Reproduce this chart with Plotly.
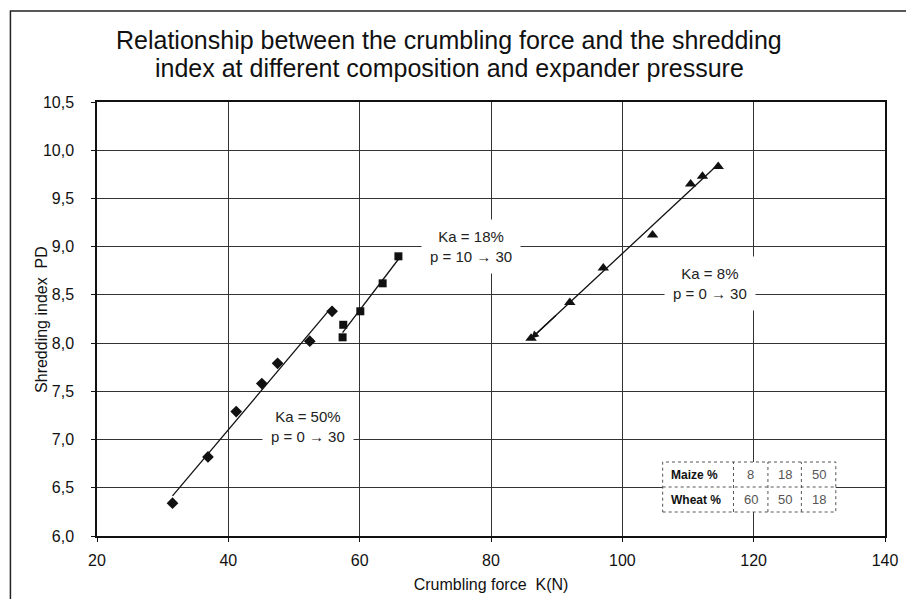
import numpy as np
import plotly.graph_objects as go

# Ka = 50 %, p = 0 -> 30 (diamonds)
ka50_force = [31.5, 36.9, 41.2, 45.1, 47.5, 52.4, 55.8]
ka50_pd = [6.34, 6.82, 7.29, 7.58, 7.79, 8.02, 8.33]

# Ka = 18 %, p = 10 -> 30 (squares)
ka18_force = [57.4, 57.5, 60.1, 63.5, 65.9]
ka18_pd = [8.06, 8.19, 8.33, 8.62, 8.90]

# Ka = 8 %, p = 0 -> 30 (triangles)
ka8_force = [86.1, 92.0, 97.1, 104.6, 110.4, 112.2, 114.6]
ka8_pd = [8.05, 8.42, 8.78, 9.12, 9.65, 9.73, 9.83]

# composition table
table_rows = ["Maize %", "Wheat %"]
maize_pct = [8, 18, 50]
wheat_pct = [60, 50, 18]

FONT = "Arial, Liberation Sans, sans-serif"


# screen pixel -> paper coordinates (plot area spans x 97..898, y 102..536)
def px(x):
    return (x - 97) / 801


def py(y):
    return (536 - y) / 434


def trend(xs, ys):
    k, b = np.polyfit(xs, ys, 1)
    x = np.array([min(xs), max(xs)])
    return x, k * x + b, k, b


fig = go.Figure()

series = [
    (ka50_force, ka50_pd, "diamond", 9, "Ka = 50%"),
    (ka18_force, ka18_pd, "square", 8, "Ka = 18%"),
    (ka8_force, ka8_pd, "triangle-up", 10, "Ka = 8%"),
]
for xs, ys, sym, size, name in series:
    tx, ty, k, b = trend(xs, ys)
    fig.add_trace(go.Scatter(x=tx, y=ty, mode="lines",
                             line=dict(color="#111", width=1.3),
                             showlegend=False, hoverinfo="skip"))
    fig.add_trace(go.Scatter(x=xs, y=ys, mode="markers", name=name,
                             marker=dict(symbol=sym, size=size, color="#111"),
                             showlegend=False))

# arrow at the low end of the Ka = 8 % line
_, _, k8, b8 = trend(ka8_force, ka8_pd)
x_tip = min(ka8_force)
fig.add_annotation(x=x_tip, y=k8 * x_tip + b8, ax=x_tip + 4, ay=k8 * (x_tip + 4) + b8,
                   xref="x", yref="y", axref="x", ayref="y", text="",
                   showarrow=True, arrowhead=2, arrowsize=1.2, arrowwidth=1.3,
                   arrowcolor="#111")

labels = [
    (52.2, 7.14, "Ka = 50%<br>p = 0 \u2192 30"),
    (76.9, 9.0, "Ka = 18%<br>p = 10 \u2192 30"),
    (113.3, 8.62, "Ka = 8%<br>p = 0 \u2192 30"),
]
for x, y, txt in labels:
    fig.add_annotation(x=x, y=y, text=txt, showarrow=False, bgcolor="white",
                       borderpad=8, font=dict(family=FONT, size=15, color="#222"))

# composition table (drawn as shapes + text)
col_edges = [672, 744, 779, 813, 848]
row_edges = [462, 487, 512]
fig.add_shape(type="rect", xref="paper", yref="paper",
              x0=px(col_edges[0]), x1=px(col_edges[-1]),
              y0=py(row_edges[-1]), y1=py(row_edges[0]),
              fillcolor="white", line=dict(color="#555", width=1, dash="dot"))
for cx in col_edges[1:-1]:
    fig.add_shape(type="line", xref="paper", yref="paper",
                  x0=px(cx), x1=px(cx), y0=py(row_edges[-1]), y1=py(row_edges[0]),
                  line=dict(color="#555", width=1, dash="dot"))
fig.add_shape(type="line", xref="paper", yref="paper",
              x0=px(col_edges[0]), x1=px(col_edges[-1]),
              y0=py(row_edges[1]), y1=py(row_edges[1]),
              line=dict(color="#555", width=1, dash="dot"))
for r, (name, vals) in enumerate(zip(table_rows, [maize_pct, wheat_pct])):
    yc = py((row_edges[r] + row_edges[r + 1]) / 2)
    fig.add_annotation(x=px(col_edges[0] + 6), y=yc, xref="paper", yref="paper",
                       text=f"<b>{name}</b>", showarrow=False,
                       xanchor="left", yanchor="middle",
                       font=dict(family=FONT, size=12, color="#111"))
    for c, v in enumerate(vals):
        xc = px((col_edges[c + 1] + col_edges[c + 2]) / 2)
        fig.add_annotation(x=xc, y=yc, xref="paper", yref="paper", text=str(v),
                           showarrow=False, xanchor="center", yanchor="middle",
                           font=dict(family=FONT, size=13, color="#555"))

# title (two centred lines)
for yy, line in [(40, "Relationship between the crumbling force and the shredding"),
                 (68, "index at different composition and expander pressure")]:
    fig.add_annotation(x=px(455), y=py(yy), xref="paper", yref="paper",
                       text=line, showarrow=False,
                       xanchor="center", yanchor="middle",
                       font=dict(family=FONT, size=25, color="#111"))

# y axis title
fig.add_annotation(x=px(40), y=0.5, xref="paper", yref="paper",
                   text="Shredding index  PD", textangle=-90, showarrow=False,
                   xanchor="center", yanchor="middle",
                   font=dict(family=FONT, size=16, color="#111"))

axis_common = dict(
    showline=True, linecolor="#111", linewidth=1.5, mirror=True,
    showgrid=True, gridcolor="#333", gridwidth=1, zeroline=False,
    ticks="outside", ticklen=4, tickcolor="#111",
    tickfont=dict(family=FONT, size=16, color="#111"),
)

fig.update_xaxes(range=[20, 140], dtick=20, ticklabelstandoff=5,
                 ticklabeloverflow="allow",
                 title=dict(text="Crumbling force  K(N)", standoff=11,
                            font=dict(family=FONT, size=16, color="#111")),
                 **axis_common)
fig.update_yaxes(range=[6, 10.5], dtick=0.5, tickformat=".1f",
                 ticklabelstandoff=14, **axis_common)

# outer chart frame
fig.add_shape(type="rect", xref="paper", yref="paper",
              x0=px(9), x1=px(930), y0=py(620), y1=py(11),
              line=dict(color="#222", width=1.5))

# the page has an 8px body margin; size the figure so it fits the window
fig.update_layout(
    width=898, height=591,
    margin=dict(l=89, r=8, t=94, b=63),
    paper_bgcolor="white", plot_bgcolor="white",
    separators=",.",
    font=dict(family=FONT),
)

fig.write_html("out.html", config={"displayModeBar": False})
